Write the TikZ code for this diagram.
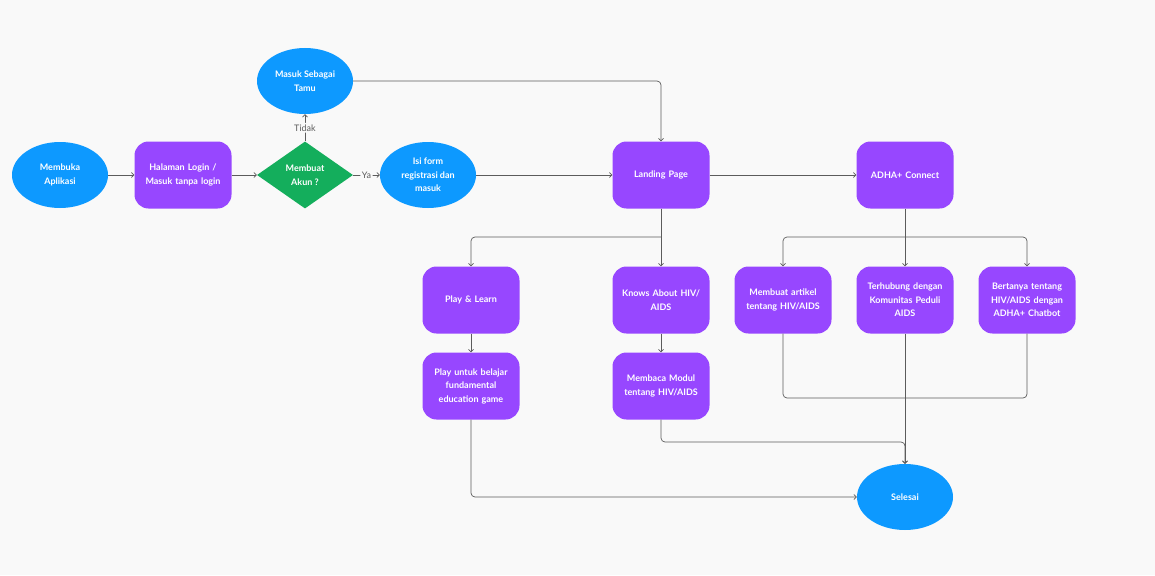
\documentclass[tikz,border=0pt]{standalone}
\usepackage{fontspec}
\setmainfont{Lato}
\usepackage{xcolor}
\usetikzlibrary{positioning, arrows.meta, shapes.geometric}

\definecolor{bgcol}{HTML}{F9F9F9}
\definecolor{stepblue}{HTML}{0D99FF}
\definecolor{steppurple}{HTML}{9747FF}
\definecolor{stepgreen}{HTML}{14AE5C}
\definecolor{linecol}{HTML}{5C5C5C}

\begin{document}
\begin{tikzpicture}[x=1pt, y=-1pt, ->, >={Straight Barb[length=2.5pt, width=5pt]},
    every node/.style={font=\bfseries\fontsize{9}{13.5}\selectfont, text=white, align=center},
    oval/.style={ellipse, fill=stepblue, minimum width=96pt, minimum height=66pt, inner sep=0pt},
    box/.style={rectangle, rounded corners=14pt, fill=steppurple, minimum width=97pt, minimum height=67pt, text width=90pt, inner sep=0pt},
    choice/.style={diamond, fill=stepgreen, minimum width=96pt, minimum height=67pt, inner sep=0pt, aspect=1.43},
    flow/.style={draw=linecol, line width=0.7pt, rounded corners=4pt},
    tag/.style={font=\fontsize{9}{10}\selectfont, text=linecol, fill=bgcol, inner sep=1.5pt}]
    \fill[bgcol] (0,0) rectangle (1155,575);
    \useasboundingbox (0,0) rectangle (1155,575);

    % top row
    \node[oval] (open) at (60,175) {Membuka\\Aplikasi};
    \node[box] (login) at (183,175) {Halaman Login /\\Masuk tanpa login};
    \node[choice] (akun) at (305,175) {Membuat\\Akun ?};
    \node[oval] (guest) at (305,81) {Masuk Sebagai\\Tamu};
    \node[oval] (form) at (428,175) {Isi form\\registrasi dan\\masuk};
    \node[box] (land) at (661,175) {Landing Page};
    \node[box] (connect) at (905,175) {ADHA+ Connect};

    % second row
    \node[box] (play) at (471,300) {Play \& Learn};
    \node[box] (know) at (661,300) {Knows About HIV/\\AIDS};
    \node[box] (artikel) at (783,300) {Membuat artikel\\tentang HIV/AIDS};
    \node[box] (komunitas) at (905,300) {Terhubung dengan\\Komunitas Peduli\\AIDS};
    \node[box] (chatbot) at (1027,300) {Bertanya tentang\\HIV/AIDS dengan\\ADHA+ Chatbot};

    % third row
    \node[box] (game) at (471,386) {Play untuk belajar\\fundamental\\education game};
    \node[box] (modul) at (661,386) {Membaca Modul\\tentang HIV/AIDS};
    \node[oval] (done) at (905,497) {Selesai};

    \coordinate (lsplit) at (661,237);
    \coordinate (csplit) at (905,237);
    \coordinate (cjoin) at (905,398);
    \coordinate (mjoin) at (905,442);

    \path[flow] (open) edge (login)
          (login) edge (akun)
          (akun) edge node[tag] {Ya} (form)
          (akun) edge node[tag] {Tidak} (guest)
          (form) edge (land)
          (land) edge (connect)
          (play) edge (game)
          (know) edge (modul);
    \draw[flow] (guest.east) -| (land.north);
    \draw[flow, -] (land.south) -- (lsplit);
    \draw[flow] (lsplit) -| (play.north);
    \draw[flow] (lsplit) -- (know.north);
    \draw[flow, -] (connect.south) -- (csplit);
    \draw[flow] (csplit) -| (artikel.north);
    \draw[flow] (csplit) -- (komunitas.north);
    \draw[flow] (csplit) -| (chatbot.north);
    \draw[flow, -] (artikel.south) |- (cjoin);
    \draw[flow, -] (chatbot.south) |- (cjoin);
    \draw[flow] (komunitas.south) -- (done.north);
    \draw[flow] (modul.south) |- (mjoin) -- (done.north);
    \draw[flow] (game.south) |- (done.west);
\end{tikzpicture}
\end{document}
